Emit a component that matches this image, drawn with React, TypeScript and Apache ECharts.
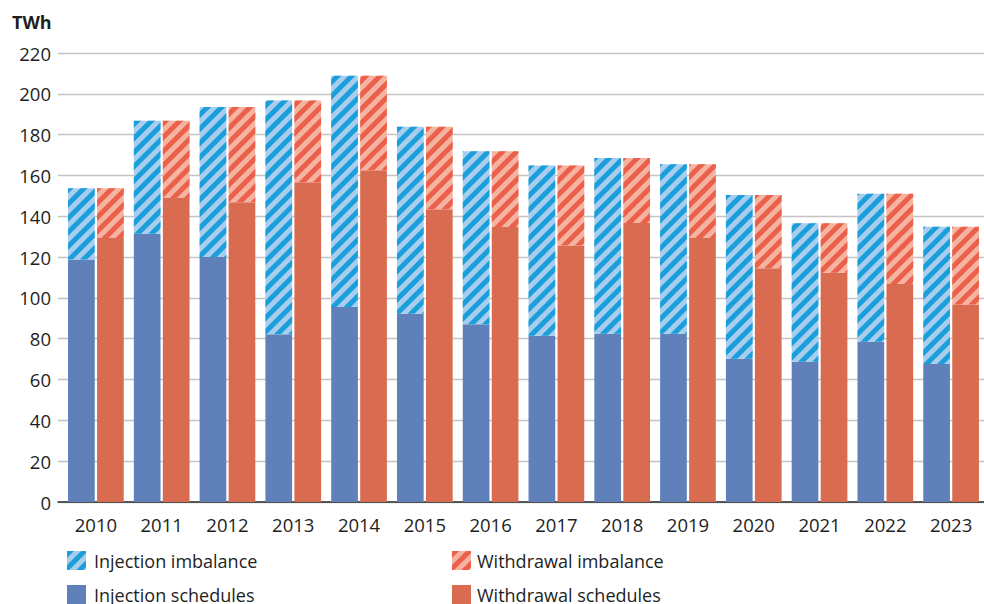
import React, { useEffect, useRef } from "react";
import * as echarts from "echarts";

const years = ["2010", "2011", "2012", "2013", "2014", "2015", "2016", "2017", "2018", "2019", "2020", "2021", "2022", "2023"];
const injectionSchedules = [118.8, 131.4, 120.0, 82.2, 95.5, 92.2, 87.1, 81.4, 82.5, 82.5, 70.2, 68.7, 78.5, 67.6];
const injectionImbalance = [34.9, 55.4, 73.6, 114.5, 113.3, 91.7, 84.7, 83.5, 86.0, 83.0, 80.2, 67.9, 72.5, 67.3];
const withdrawalSchedules = [129.3, 149.0, 146.9, 156.7, 162.6, 143.4, 134.8, 125.7, 136.7, 129.3, 114.5, 112.3, 106.8, 96.8];
const withdrawalImbalance = [24.4, 37.8, 46.7, 40.0, 46.2, 40.5, 37.0, 39.2, 31.8, 36.2, 35.9, 24.3, 44.2, 38.1];
const unitLabel = "TWh";

const FONT = "'Open Sans', 'Noto Sans', sans-serif";
const TEXT = "#1e1e1e";

export default function App() {
  const ref = useRef<HTMLDivElement>(null);
  useEffect(() => {
    if (!ref.current) return;
    const chart = echarts.init(ref.current, null, { renderer: "svg" });
    const hatch = (stripe: string) => ({
      symbol: "rect",
      symbolSize: 1,
      color: stripe,
      dashArrayX: [1, 0],
      dashArrayY: [5, 5],
      rotation: -Math.PI / 4,
    });
    const barCommon = { xAxisIndex: 1, yAxisIndex: 1, barWidth: 26.7, barGap: "8.6%" };
    chart.setOption({
      animation: false,
      textStyle: { fontFamily: FONT },
      grid: [
        { left: 58, right: 0, top: 53, bottom: 102 },
        { left: 63, width: 927.5, top: 53, bottom: 102 },
      ],
      xAxis: [
        {
          type: "category",
          gridIndex: 0,
          data: years,
          axisLine: { show: true, lineStyle: { color: "#2a2a2a", width: 1.5 } },
          axisTick: { show: false },
          axisLabel: { show: false },
        },
        {
          type: "category",
          gridIndex: 1,
          data: years,
          axisLine: { show: false },
          axisTick: { show: false },
          axisLabel: { color: TEXT, fontSize: 18.5, margin: 13, fontFamily: FONT },
        },
      ],
      yAxis: [
        {
          type: "value",
          gridIndex: 0,
          min: 0,
          max: 220,
          interval: 20,
          axisLine: { show: false },
          axisTick: { show: false },
          axisLabel: { color: TEXT, fontSize: 18.5, margin: 7, fontFamily: FONT },
          splitLine: { lineStyle: { color: "#c4c4c4", width: 1.3 } },
        },
        {
          type: "value",
          gridIndex: 1,
          min: 0,
          max: 220,
          interval: 20,
          show: false,
          splitLine: { show: false },
        },
      ],
      legend: [
        {
          orient: "vertical",
          left: 67,
          top: 551,
          padding: 0,
          itemWidth: 19,
          itemHeight: 19,
          itemGap: 15,
          icon: "rect",
          data: ["Injection imbalance", "Injection schedules"],
          textStyle: { color: TEXT, fontSize: 18, fontFamily: FONT, padding: [0, 0, 0, 3] },
        },
        {
          orient: "vertical",
          left: 452,
          top: 551,
          padding: 0,
          itemWidth: 19,
          itemHeight: 19,
          itemGap: 15,
          icon: "rect",
          data: ["Withdrawal imbalance", "Withdrawal schedules"],
          textStyle: { color: TEXT, fontSize: 18, fontFamily: FONT, padding: [0, 0, 0, 1] },
        },
      ],
      graphic: [
        {
          type: "text",
          left: 12,
          top: 13,
          style: { text: unitLabel, fontSize: 18, fontWeight: "bold", fill: TEXT, fontFamily: FONT },
        },
      ],
      series: [
        {
          ...barCommon,
          name: "Injection schedules",
          type: "bar",
          stack: "inj",
          data: injectionSchedules,
          itemStyle: { color: "#6080b9" },
        },
        {
          ...barCommon,
          name: "Injection imbalance",
          type: "bar",
          stack: "inj",
          data: injectionImbalance,
          itemStyle: { color: "#a9cdee", decal: hatch("#1a9fdb") },
        },
        {
          ...barCommon,
          name: "Withdrawal schedules",
          type: "bar",
          stack: "wd",
          data: withdrawalSchedules,
          itemStyle: { color: "#d96c50" },
        },
        {
          ...barCommon,
          name: "Withdrawal imbalance",
          type: "bar",
          stack: "wd",
          data: withdrawalImbalance,
          itemStyle: { color: "#f5b3a1", decal: hatch("#eb604b") },
        },
      ],
    });
    return () => chart.dispose();
  }, []);
  return (
    <div
      ref={ref}
      style={{ position: "fixed", left: 0, top: 0, width: 984, height: 604, background: "#fff" }}
    />
  );
}
